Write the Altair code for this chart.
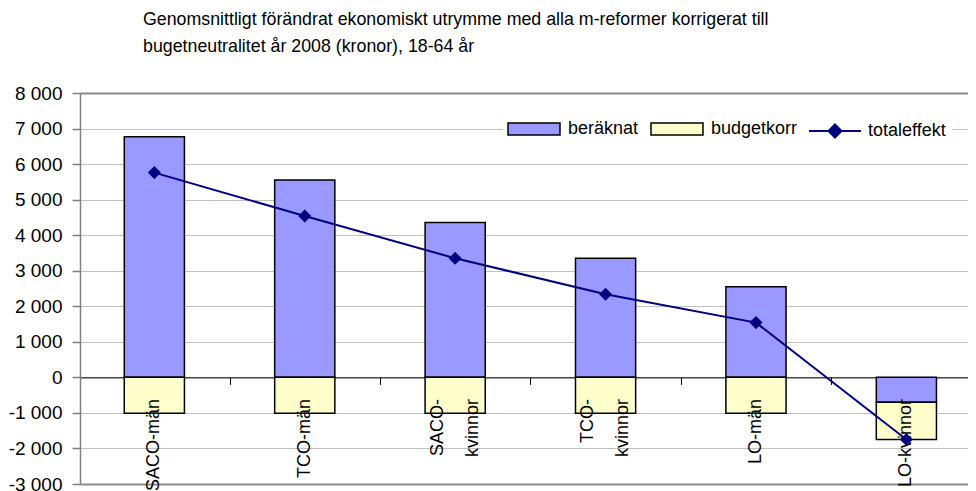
import altair as alt
import pandas as pd

FONT = "Liberation Sans"

# ---- data ----
categories = ["SACO-män", "TCO-män", "SACO-kvinnor", "TCO-kvinnor", "LO-män", "LO-kvinnor"]
tick_labels = ["SACO-män", "TCO-män", "SACO-\nkvinnor", "TCO-\nkvinnor", "LO-män", "LO-kvinnor"]
beraknat = [6770, 5550, 4360, 3350, 2550, -700]
budgetkorr = [-1010, -1010, -1010, -1010, -1010, -1050]
totaleffekt = [5760, 4540, 3350, 2340, 1540, -1750]
bar_series = ["beräknat", "budgetkorr"]
bar_colors = ["#9999FF", "#FFFFCC"]
line_series = ["totaleffekt"]
line_colors = ["#000080"]
y_ticks = list(range(-3000, 8001, 1000))
title_lines = [
    "Genomsnittligt förändrat ekonomiskt utrymme med alla m-reformer korrigerat till",
    "bugetneutralitet år 2008 (kronor), 18-64 år",
]

rows = []
for lab, b, k in zip(tick_labels, beraknat, budgetkorr):
    rows.append({"kat": lab, "serie": bar_series[0], "ord": 0, "varde": b})
    rows.append({"kat": lab, "serie": bar_series[1], "ord": 1, "varde": k})
bars_df = pd.DataFrame(rows)
line_df = pd.DataFrame({"kat": tick_labels, "serie": line_series[0], "varde": totaleffekt})
single_df = pd.DataFrame({"kat": [t for t in tick_labels if "\n" not in t]})
double_df = pd.DataFrame({"kat": [t for t in tick_labels if "\n" in t]})

STEP = 150.4
x_axis = alt.Axis(
    title=None, orient="bottom", offset=-106.6, domainColor="black", domainWidth=1,
    tickColor="black", tickSize=7, tickWidth=1, tickOffset=STEP / 2,
    labels=False, grid=False,
)
x_enc = alt.X("kat:N", sort=tick_labels,
              scale=alt.Scale(paddingInner=0.6, paddingOuter=0.252, align=0.584),
              axis=x_axis)

y_axis = alt.Axis(
    title=None, values=y_ticks,
    labelExpr="replace(replace(format(datum.value, ','), ',', ' '), '−', '-')",
    labelFontSize=19, labelFont=FONT, labelColor="black", labelPadding=10,
    tickSize=8, tickColor="#808080", tickWidth=1.5,
    domainColor="#808080", domainWidth=1.5,
    grid=True,
    gridColor={"condition": {"test": "datum.value == 8000 || datum.value == -3000", "value": "#8a8a8a"}, "value": "#c0c0c0"},
    gridWidth={"condition": {"test": "datum.value == 8000 || datum.value == -3000", "value": 2}, "value": 1},
)
y_scale = alt.Scale(domain=[-3000, 8000], nice=False, zero=False)

bar_legend = alt.Legend(
    title=None, orient="none", legendX=423, legendY=5, direction="horizontal",
    fillColor="white", padding=4, labelFontSize=18, labelFont=FONT, labelColor="black",
    labelOffset=7, columnPadding=9, symbolSize=2704, symbolStrokeWidth=1.5,
    symbolType="M-1,-0.23H1V0.23H-1Z", symbolStrokeColor="black", symbolOpacity=1,
    labelExpr="datum.value === 'budgetkorr' ? datum.label + '        ' : datum.label",
)
line_legend = alt.Legend(
    title=None, orient="none", legendX=722, legendY=5, direction="horizontal",
    fillColor="white", padding=6, labelFontSize=18, labelFont=FONT, labelColor="black",
    labelOffset=6, symbolSize=2704, symbolStrokeWidth=2,
    symbolType="M-1,0H1M0,-0.25L0.25,0L0,0.25L-0.25,0Z", symbolFillColor="#000080",
    symbolOpacity=1,
)

bars = alt.Chart(bars_df).mark_bar(
    stroke="black", strokeWidth=1.5, opacity=1
).encode(
    x=x_enc,
    y=alt.Y("varde:Q", stack="zero", scale=y_scale, axis=y_axis),
    fill=alt.Fill("serie:N", scale=alt.Scale(domain=bar_series, range=bar_colors), legend=bar_legend),
    order=alt.Order("ord:Q"),
)

label_style = dict(angle=270, align="right", baseline="middle", fontSize=18, font=FONT,
                   color="black", lineBreak="\n", lineHeight=35)
labels1 = alt.Chart(single_df).mark_text(**label_style).encode(
    x=x_enc, y=alt.value(306), text="kat:N",
)
labels2 = alt.Chart(double_df).mark_text(dy=-17.5, **label_style).encode(
    x=x_enc, y=alt.value(306), text="kat:N",
)

line = alt.Chart(line_df).mark_line(strokeWidth=2).encode(
    x=x_enc,
    y=alt.Y("varde:Q", scale=y_scale, axis=y_axis),
    stroke=alt.Stroke("serie:N", scale=alt.Scale(domain=line_series, range=line_colors), legend=line_legend),
)

points = alt.Chart(line_df).mark_point(
    shape="diamond", size=170, filled=True, color=line_colors[0], opacity=1
).encode(
    x=x_enc,
    y=alt.Y("varde:Q", scale=y_scale, axis=y_axis),
)

chart = alt.layer(bars, labels1, labels2, line, points).properties(
    width=888, height=391,
    padding={"left": 72, "top": 85, "right": 0, "bottom": 7},
    autosize=alt.AutoSizeParams(type="none"),
    title=alt.Title(
        text=title_lines, anchor="start", frame="group", dx=63, offset=10,
        baseline="bottom", fontSize=17.8, font=FONT, fontWeight="normal",
        color="black", lineHeight=27,
    ),
).resolve_scale(fill="independent", stroke="independent").configure_view(stroke=None).configure(font=FONT, background="white")

chart.save("out.html", embed_options={"renderer": "svg", "actions": False})
